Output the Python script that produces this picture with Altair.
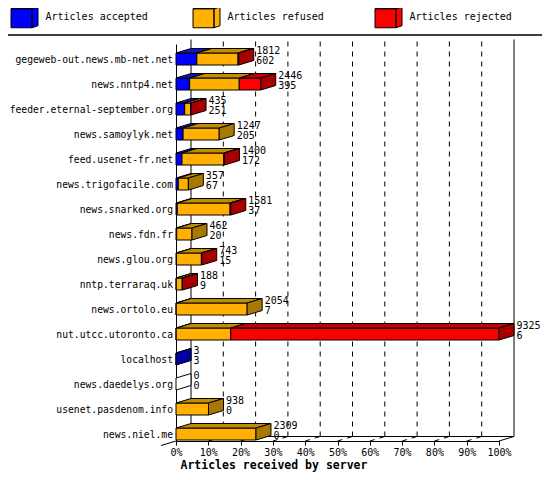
"""Articles received per peer, drawn as pseudo-3D stacked bars with Altair."""

import altair as alt
import pandas as pd

MONO = "DejaVu Sans Mono"

SERVERS = [
    "gegeweb-out.news.mb-net.net",
    "news.nntp4.net",
    "feeder.eternal-september.org",
    "news.samoylyk.net",
    "feed.usenet-fr.net",
    "news.trigofacile.com",
    "news.snarked.org",
    "news.fdn.fr",
    "news.glou.org",
    "nntp.terraraq.uk",
    "news.ortolo.eu",
    "nut.utcc.utoronto.ca",
    "localhost",
    "news.daedelys.org",
    "usenet.pasdenom.info",
    "news.niel.me",
]
OFFERED = [1812, 2446, 435, 1247, 1400, 357, 1581, 462, 743, 188, 2054, 9325, 3, 0, 938, 2309]
ACCEPTED = [602, 395, 251, 205, 172, 67, 37, 20, 15, 9, 7, 6, 3, 0, 0, 0]
REFUSED = [1190, 1431, 174, 1042, 1208, 290, 1524, 442, 718, 170, 2047, 1575, 0, 0, 938, 2309]
REJECTED = [20, 620, 10, 0, 20, 0, 20, 0, 10, 9, 0, 7744, 0, 0, 0, 0]
PCT_TICKS = [0, 10, 20, 30, 40, 50, 60, 70, 80, 90, 100]

SERIES = ["Articles accepted", "Articles refused", "Articles rejected"]
FRONT = ["#0000ff", "#ffb000", "#ff0000"]
TOP = ["#1414c4", "#c48c00", "#c40000"]
SIDE = ["#0000a4", "#a87800", "#a80000"]

PLOT_W = 323
PLOT_H = 397
DX = 15 / PLOT_W * 100  # box depth, in percent units (15px)
DY = 0.18               # box depth, in row units (~4.5px)
HALF = 0.24             # half bar thickness, in rows
Y_TOP = -0.6
Y_FLOOR = 15.28

# cube outline for the legend symbols (front, top, side)
CUBE = (
    "M-1,-0.63L0.556,-0.63L0.556,0.778L-1,0.778Z"
    "M-1,-0.63L-0.556,-0.778L1,-0.778L0.556,-0.63Z"
    "M0.556,-0.63L1,-0.778L1,0.63L0.556,0.778Z"
)

X_SCALE = alt.Scale(domain=[0, 100], nice=False, zero=False)
Y_SCALE = alt.Scale(domain=[Y_TOP, Y_FLOOR], reverse=True, nice=False, zero=False)

name_list = ",".join(f"'{s}'" for s in SERVERS)
X_AXIS = alt.Axis(
    values=PCT_TICKS, labelExpr="datum.value + '%'", tickSize=4,
    labelPadding=2, labelFlush=False, labelOverlap=False, grid=False,
    title="Articles received by server", titleFont=MONO,
    titleFontWeight="bold", titleFontSize=11.5, titleAlign="left",
    titleBaseline="middle", titleX=4, titleY=24,
)
Y_AXIS = alt.Axis(
    values=list(range(len(SERVERS))),
    labelExpr=f"[{name_list}][datum.value]",
    ticks=False, labelPadding=3.5, labelFontSize=9.7, grid=False, title=None,
)


def pos(x: str, y: str) -> dict:
    """Shared x/y channels so every layer merges into the same axes."""
    return dict(
        x=alt.X(x, scale=X_SCALE, axis=X_AXIS, stack=None),
        y=alt.Y(y, scale=Y_SCALE, axis=Y_AXIS, stack=None),
    )


def build_faces() -> tuple[pd.DataFrame, pd.DataFrame]:
    """Polygon vertices for every box face, plus label positions."""
    top_total = max(OFFERED)
    faces = []
    labels = []
    for i in range(len(SERVERS)):
        parts = [ACCEPTED[i], REFUSED[i], REJECTED[i]]
        y_top, y_bot = i - HALF, i + HALF
        start = 0.0
        last = None
        for k, value in enumerate(parts):
            if value <= 0:
                continue
            s = start
            e = start + value / top_total * 100
            start = e
            last = k
            pid = f"{i}-{k}"
            for bx in (s, e):
                faces.append(dict(face="front", seg=k, poly=pid + "f", x=bx,
                                  lo=y_bot, hi=y_top, series=SERIES[k], color=FRONT[k]))
            for bx in sorted({s, e, s + DX, e + DX}):
                lo = y_top if bx <= e else y_top - DY * (bx - e) / DX
                hi = y_top - DY * min(1.0, (bx - s) / DX)
                faces.append(dict(face="top", seg=k, poly=pid + "t", x=bx,
                                  lo=lo, hi=hi, series=SERIES[k], color=TOP[k]))
        side_color = SIDE[last] if last is not None else "#ffffff"
        faces.append(dict(face="side", seg=3, poly=f"{i}s", x=start,
                          lo=y_bot, hi=y_top, series="", color=side_color))
        faces.append(dict(face="side", seg=3, poly=f"{i}s", x=start + DX,
                          lo=y_bot - DY, hi=y_top - DY, series="", color=side_color))
        labels.append(dict(row=i, x=start + DX, total=str(OFFERED[i]),
                           accepted=str(ACCEPTED[i])))
    return pd.DataFrame(faces), pd.DataFrame(labels)


faces_df, labels_df = build_faces()

solid_df = pd.DataFrame([
    dict(x=DX, x2=DX, y=Y_FLOOR - DY, y2=Y_TOP - DY),
    dict(x=100 + DX, x2=100 + DX, y=Y_FLOOR - DY, y2=Y_TOP - DY),
    dict(x=DX, x2=100 + DX, y=Y_FLOOR - DY, y2=Y_FLOOR - DY),
    dict(x=100, x2=100 + DX, y=Y_FLOOR, y2=Y_FLOOR - DY),
    dict(x=-DX, x2=0, y=Y_FLOOR + DY, y2=Y_FLOOR),
])
dashed_rows = []
for p in PCT_TICKS[1:-1]:
    dashed_rows.append(dict(x=p + DX, x2=p + DX, y=Y_FLOOR - DY, y2=Y_TOP - DY))
    dashed_rows.append(dict(x=p, x2=p + DX, y=Y_FLOOR, y2=Y_FLOOR - DY))
dashed_df = pd.DataFrame(dashed_rows)


def rules(df: pd.DataFrame, dashed: bool = False) -> alt.Chart:
    style = {"strokeDash": [5, 5]} if dashed else {}
    return alt.Chart(df).mark_rule(color="black", strokeWidth=1, **style).encode(
        **pos("x:Q", "y:Q"), x2="x2:Q", y2="y2:Q"
    )


front = (
    alt.Chart(faces_df)
    .transform_filter("datum.face == 'front'")
    .mark_area(stroke="black", strokeWidth=1, opacity=1, orient="vertical")
    .encode(
        **pos("x:Q", "lo:Q"),
        y2="hi:Q",
        detail="poly:N",
        fill=alt.Fill(
            "series:N",
            scale=alt.Scale(domain=SERIES, range=FRONT),
            legend=alt.Legend(
                orient="none", legendX=-165.5, legendY=-41, direction="horizontal",
                columns=3, title=None, symbolType=CUBE, symbolSize=729,
                symbolStrokeColor="black", symbolStrokeWidth=1, symbolOpacity=1,
                labelFont=MONO, labelFontSize=10, labelColor="black", labelOffset=7,
                columnPadding=42, gridAlign="all", padding=0,
            ),
        ),
    )
)


def top_faces(k: int) -> alt.Chart:
    return (
        alt.Chart(faces_df)
        .transform_filter(f"datum.face == 'top' && datum.seg == {k}")
        .mark_area(fill=TOP[k], stroke="black", strokeWidth=1, opacity=1, orient="vertical")
        .encode(**pos("x:Q", "lo:Q"), y2="hi:Q", detail="poly:N")
    )


side = (
    alt.Chart(faces_df)
    .transform_filter("datum.face == 'side'")
    .mark_area(stroke="black", strokeWidth=1, opacity=1, orient="vertical")
    .encode(
        **pos("x:Q", "lo:Q"),
        y2="hi:Q",
        detail="poly:N",
        fill=alt.Fill("color:N", scale=None),
    )
)


def value_text(field: str, dy: float) -> alt.Chart:
    return alt.Chart(labels_df).mark_text(
        align="left", baseline="middle", dx=2.5, dy=dy, font=MONO, fontSize=10, color="black"
    ).encode(**pos("x:Q", "row:Q"), text=f"{field}:N")


separator = alt.Chart(pd.DataFrame({"k": [0]})).mark_rule(color="black", strokeWidth=1.5).encode(
    x=alt.value(-170), x2=alt.value(370), y=alt.value(-9)
)

chart = (
    alt.layer(
        rules(solid_df),
        rules(dashed_df, dashed=True),
        front,
        top_faces(0),
        top_faces(1),
        top_faces(2),
        side,
        value_text("total", -8.5),
        value_text("accepted", 1.5),
        separator,
    )
    .resolve_scale(fill="independent")
    .properties(
        width=PLOT_W,
        height=PLOT_H,
        padding={"left": 168, "top": 36, "right": 534 - 168 - PLOT_W, "bottom": 464 - 36 - PLOT_H},
        autosize=alt.AutoSizeParams(type="none"),
        background="white",
    )
    .configure(font=MONO)
    .configure_axis(
        labelFont=MONO, labelFontSize=10, labelColor="black",
        domainColor="black", tickColor="black", titleColor="black",
    )
    .configure_view(stroke=None)
)

chart.save("out.html", embed_options={"renderer": "svg", "actions": False})
